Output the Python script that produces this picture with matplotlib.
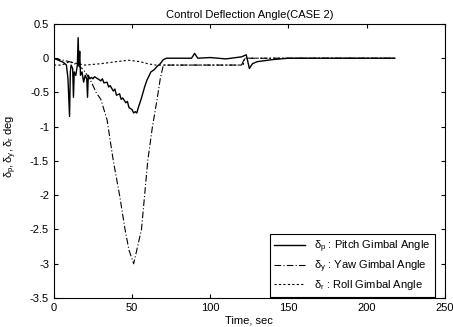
import matplotlib
matplotlib.use('Agg')
import matplotlib.pyplot as plt
import numpy as np

plt.rcParams['font.family'] = ['Liberation Sans', 'DejaVu Sans']
plt.rcParams['mathtext.fontset'] = 'custom'
plt.rcParams['mathtext.rm'] = 'Liberation Sans'
plt.rcParams['mathtext.it'] = 'Liberation Sans'

# pitch gimbal angle (solid)
t_pitch = [0, 3, 6, 8, 9, 10, 10.5, 11, 12, 12.5, 13, 14, 15, 15.5, 16, 16.5,
           17, 18, 19, 20, 21, 21.5, 22, 23, 24, 25, 26, 28, 30, 31, 32, 34,
           35, 36, 38, 39, 40, 42, 43, 44, 46, 47, 48, 50, 51, 52, 53, 54,
           56, 57, 58, 59.5, 61, 62, 64, 66, 68, 70, 72, 80, 88, 90, 92, 100,
           110, 120, 123, 125, 127, 130, 140, 150, 160, 180, 200, 218]
pitch = [0, -0.03, -0.06, -0.1, -0.3, -0.85, -0.2, -0.1, -0.15, -0.57, -0.2,
         -0.25, -0.1, 0.3, -0.1, 0.1, -0.25, -0.2, -0.35, -0.25, -0.3, -0.57,
         -0.25, -0.3, -0.28, -0.3, -0.27, -0.3, -0.33, -0.3, -0.36, -0.35,
         -0.42, -0.4, -0.48, -0.45, -0.54, -0.52, -0.6, -0.58, -0.65, -0.63,
         -0.72, -0.75, -0.8, -0.78, -0.8, -0.72, -0.58, -0.5, -0.42, -0.32,
         -0.25, -0.2, -0.17, -0.12, -0.08, -0.02, 0, 0, 0, 0.07, 0, 0.01,
         -0.01, 0.02, 0.05, -0.15, -0.08, -0.05, -0.02, 0, 0, 0, 0, 0]

# yaw gimbal angle (dash-dot)
t_yaw = [0, 10, 15, 18, 20, 24, 27, 30, 34, 38, 42, 45.5, 48, 51, 53, 56, 58,
         60, 63, 66, 68, 70, 80, 100, 120, 122, 130, 218]
yaw = [0, -0.05, -0.1, -0.15, -0.2, -0.35, -0.5, -0.6, -0.9, -1.5, -2.0,
       -2.5, -2.8, -3.0, -2.8, -2.5, -2.0, -1.5, -1.0, -0.6, -0.3, -0.1,
       -0.1, -0.1, -0.1, 0, 0, 0]

# roll gimbal angle (dotted)
t_roll = [0, 5, 10, 15, 20, 30, 40, 48, 55, 60, 65, 70, 100, 121, 122, 218]
roll = [-0.1, -0.1, -0.05, -0.08, -0.1, -0.08, -0.05, -0.03, -0.05, -0.08,
        -0.1, -0.1, -0.1, -0.1, 0, 0]

fig = plt.figure(figsize=(4.53, 3.27), dpi=100)
ax = fig.add_axes([0.119, 0.0887, 0.863, 0.838])

ax.plot(t_pitch, pitch, color='black', lw=1.0, ls='-',
        label=r'$\delta_p$ : Pitch Gimbal Angle')
ax.plot(t_yaw, yaw, color='black', lw=0.8, ls=(0, (6, 2, 1, 2)),
        label=r'$\delta_y$ : Yaw Gimbal Angle')
ax.plot(t_roll, roll, color='black', lw=0.8, ls=(0, (2, 2)),
        label=r'$\delta_r$ : Roll Gimbal Angle')

ax.set_xlim(0, 250)
ax.set_ylim(-3.5, 0.5)
ax.set_xticks([0, 50, 100, 150, 200, 250])
ax.set_yticks(np.arange(-3.5, 0.51, 0.5))
ax.set_yticklabels(['-3.5', '-3', '-2.5', '-2', '-1.5', '-1', '-0.5', '0', '0.5'])
ax.tick_params(direction='in', top=True, right=True, labelsize=8, length=3)

ax.set_title('Control Deflection Angle(CASE 2)', fontsize=8, pad=4)
ax.set_xlabel('Time, sec', fontsize=8, labelpad=2)
ax.set_ylabel(r'$\delta_p, \delta_y, \delta_r$ deg', fontsize=8)
ax.yaxis.set_label_coords(-0.09, 0.553)

leg = ax.legend(loc='lower right', bbox_to_anchor=(0.975, 0.005),
                borderaxespad=0, fontsize=8, fancybox=False,
                edgecolor='black', framealpha=1, handlelength=2.8,
                labelspacing=0.3)
leg.get_frame().set_linewidth(0.8)

fig.savefig('out.png', dpi=100)
